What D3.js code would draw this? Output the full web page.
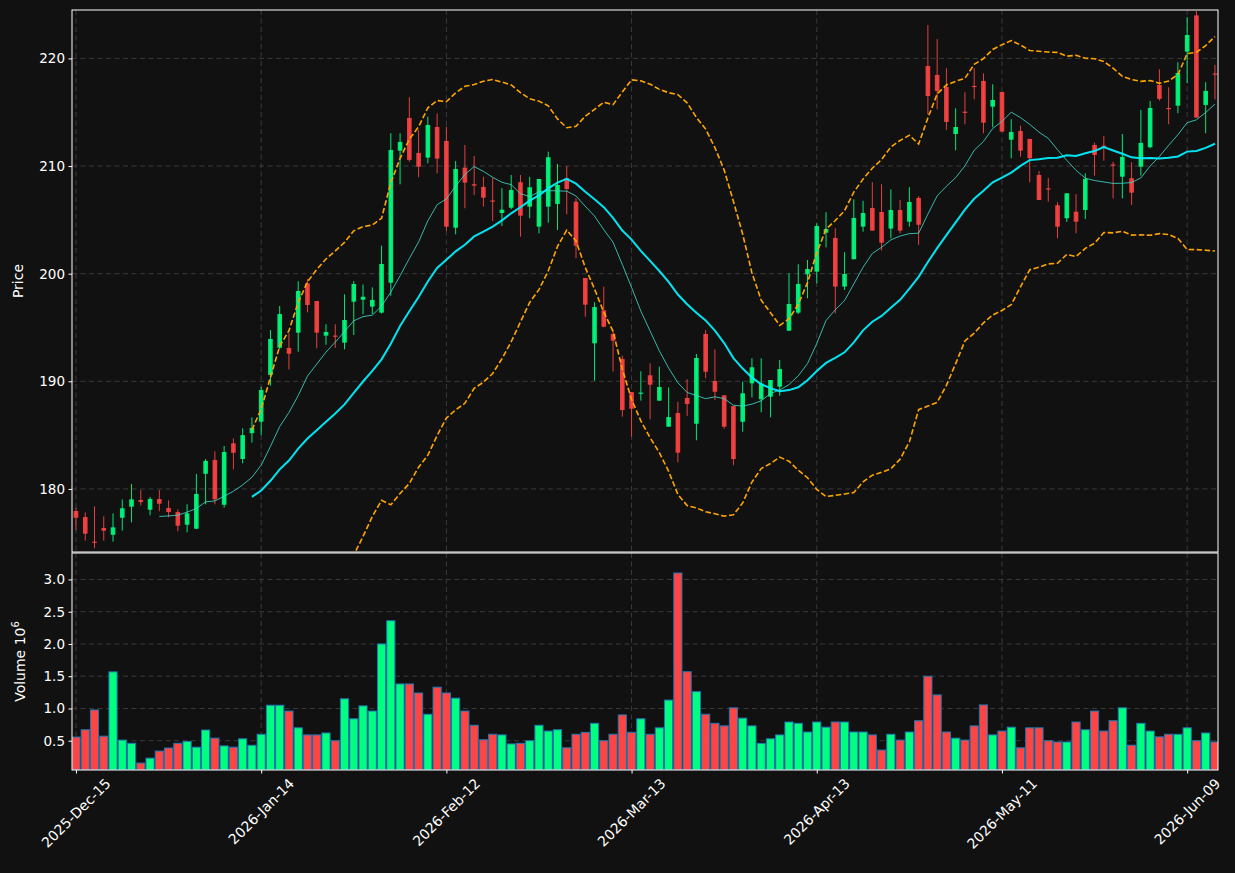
<!DOCTYPE html>
<html>
<head>
<meta charset="utf-8">
<script src="https://cdn.jsdelivr.net/npm/d3@7"></script>
<style>
body{margin:0;background:#111;}
svg{display:block;font-family:"DejaVu Sans",sans-serif;}
</style>
</head>
<body>
<svg id="chart" width="1235" height="873"></svg>
<script>
// daily OHLC, one entry per trading session
const opens = [177.95,177.39,175.1,176.37,175.74,177.32,178.35,178.97,178.07,179.06,
  178.23,177.85,176.67,176.3,181.41,182.69,178.53,184.24,182.78,185.18,
  186.25,190.58,193.12,193.1,194.52,199.1,197.46,194.24,194.25,193.59,
  197.4,197.58,196.94,196.38,199.16,211.43,214.47,211.22,210.78,213.63,
  212.33,204.27,209.85,208.31,208.06,206.8,205.64,206.13,208.5,206.23,
  204.37,206.23,206.48,208.87,206.69,199.6,193.53,196.6,194.4,192.07,
  189.0,188.85,190.56,188.2,185.78,187.05,188.45,186.06,194.4,190.03,
  188.7,187.7,186.24,189.81,188.33,188.57,189.5,194.7,196.38,199.94,
  200.19,203.81,203.32,198.8,201.34,204.37,206.1,205.73,204.19,205.92,
  204.83,207.04,219.3,218.47,217.35,212.98,215.05,217.45,217.91,215.52,
  216.89,212.45,213.26,212.52,209.17,207.93,206.36,205.15,205.76,205.92,
  211.96,211.9,210.15,209.01,208.87,209.94,211.75,217.54,215.4,215.61,
  220.63,224.0,215.68,218.6];
const highs = [178.25,177.82,178.38,177.45,177.73,179.03,180.45,179.9,179.25,179.9,
  178.94,178.1,178.57,181.4,182.78,183.5,183.99,184.7,185.63,186.65,
  189.5,194.77,197.0,194.46,199.3,199.5,197.46,195.3,195.3,198.08,
  199.3,199.0,198.73,202.6,213.05,213.05,216.4,213.35,214.59,214.9,
  213.66,210.47,211.96,210.94,209.01,208.92,207.94,209.17,209.17,209.0,
  208.8,211.34,210.2,210.0,207.0,199.6,197.34,198.79,194.77,192.38,
  189.0,190.93,191.67,191.36,189.44,188.1,190.19,192.54,194.77,192.97,
  188.7,187.7,189.97,192.14,192.14,190.12,191.98,200.04,200.87,201.27,
  204.68,205.71,204.22,202.0,206.91,206.78,208.5,208.31,207.84,206.85,
  208.03,207.2,223.1,221.81,219.09,215.37,216.86,219.09,218.62,217.6,
  216.89,214.35,213.75,212.52,209.55,208.9,206.64,207.47,207.4,209.33,
  212.18,212.8,210.4,212.98,210.35,215.21,216.05,219.0,217.32,219.65,
  223.83,224.4,217.79,219.4];
const lows = [176.18,175.19,174.48,175.19,175.1,176.12,176.9,178.47,177.55,177.92,
  177.36,176.06,175.97,176.3,178.57,178.57,178.25,181.82,182.38,184.3,
  185.0,189.6,193.0,191.1,192.75,196.4,193.07,193.4,193.1,192.97,
  194.3,196.23,196.25,196.3,197.95,208.3,210.4,208.96,210.26,209.33,
  203.97,203.66,206.08,207.31,206.23,204.9,204.43,206.0,203.44,205.15,
  203.75,204.74,204.06,205.52,201.43,196.0,190.06,195.02,190.9,186.71,
  184.85,188.2,186.47,188.2,185.78,182.47,186.78,184.52,190.28,188.26,
  185.6,182.2,185.32,188.5,187.12,186.65,188.66,194.7,196.25,197.71,
  199.1,202.45,196.32,198.49,201.34,203.9,204.0,202.14,203.29,203.75,
  204.37,202.67,214.8,215.28,213.36,211.47,213.88,216.2,213.05,213.6,
  213.2,210.72,210.87,208.49,206.85,206.69,203.29,204.8,203.75,205.08,
  209.11,210.5,207.0,207.0,206.38,209.11,211.65,216.08,213.88,214.91,
  217.7,214.5,213.05,216.2];
const closes = [177.32,175.84,175.0,176.12,176.43,178.2,179.03,178.78,179.06,178.63,
  177.85,176.58,177.73,179.53,182.6,179.03,183.43,183.36,185.0,185.67,
  189.19,193.93,196.25,192.56,198.39,197.09,194.52,194.58,194.15,195.7,
  199.04,197.86,197.56,200.9,211.5,212.24,210.57,209.94,213.82,210.69,
  204.37,209.73,208.46,208.18,207.06,206.7,205.95,207.78,205.39,208.03,
  208.8,210.82,208.24,207.87,202.6,197.12,196.9,195.07,193.77,187.33,
  187.45,188.95,189.68,189.47,186.68,183.37,187.89,192.17,190.89,189.03,
  185.78,182.78,188.89,191.3,189.81,190.12,191.14,197.18,199.04,200.44,
  204.43,204.15,198.8,199.97,205.18,205.64,204.0,202.88,205.92,204.0,
  206.66,204.55,216.51,216.98,214.1,213.63,214.95,217.38,214.03,216.14,
  213.2,213.17,211.43,210.72,206.85,207.87,204.37,207.47,204.83,208.8,
  211.03,211.85,210.1,210.85,207.53,212.15,215.4,216.24,215.34,218.65,
  222.18,214.5,216.98,218.52];
// volume in millions
const volumes = [0.557,0.67,0.977,0.57,1.567,0.51,0.46,0.154,0.23,0.34,
  0.387,0.46,0.49,0.40,0.666,0.54,0.42,0.40,0.53,0.43,
  0.60,1.05,1.05,0.96,0.70,0.59,0.59,0.62,0.50,1.15,
  0.84,1.04,0.96,2.00,2.36,1.38,1.38,1.24,0.91,1.33,
  1.24,1.16,0.96,0.74,0.515,0.60,0.59,0.45,0.46,0.50,
  0.74,0.65,0.67,0.39,0.60,0.63,0.77,0.50,0.60,0.90,
  0.63,0.84,0.60,0.70,1.13,3.10,1.57,1.26,0.91,0.77,
  0.73,1.01,0.85,0.73,0.46,0.53,0.59,0.79,0.77,0.635,
  0.79,0.71,0.79,0.79,0.635,0.635,0.59,0.355,0.60,0.51,
  0.635,0.81,1.50,1.21,0.635,0.54,0.51,0.73,1.055,0.59,
  0.65,0.71,0.39,0.70,0.70,0.50,0.48,0.48,0.79,0.67,
  0.96,0.65,0.81,1.01,0.43,0.77,0.65,0.56,0.60,0.60,
  0.70,0.50,0.62,0.48];
const tickIdx = [0,20,40,60,80,100,120];
const tickLabels = ['2025-Dec-15','2026-Jan-14','2026-Feb-12','2026-Mar-13','2026-Apr-13','2026-May-11','2026-Jun-09'];
const priceTicks = [180,190,200,210,220];
const volTicks = [0.5,1.0,1.5,2.0,2.5,3.0];

const W = 1235, H = 873;
const left = 72, right = 1218, pTop = 10, pBot = 552, vTop = 553, vBot = 770;
const upCol = '#00ff80', downCol = '#ff4444';

const svg = d3.select('#chart');
svg.append('rect').attr('width', W).attr('height', H).attr('fill', '#111111');

const n = closes.length;
const idx = d3.range(n);
const x = d3.scaleLinear().domain([-0.43, 123.33]).range([left, right]);
const step = x(1) - x(0);
const yP = d3.scaleLinear().domain([174.14, 224.5]).range([pBot, pTop]);
const yV = d3.scaleLinear().domain([0.3 * d3.min(volumes), 1.1 * d3.max(volumes)]).range([vBot, vTop]);

const defs = svg.append('defs');
defs.append('clipPath').attr('id', 'clipP').append('rect')
  .attr('x', left).attr('y', pTop).attr('width', right - left).attr('height', pBot - pTop);
defs.append('clipPath').attr('id', 'clipV').append('rect')
  .attr('x', left).attr('y', vTop).attr('width', right - left).attr('height', vBot - vTop);

// grid
function grid(g, ticksY, scaleY, y0, y1) {
  g.selectAll('.gx').data(tickIdx).enter().append('line')
    .attr('x1', d => x(d)).attr('x2', d => x(d)).attr('y1', y0).attr('y2', y1);
  g.selectAll('.gy').data(ticksY).enter().append('line')
    .attr('x1', left).attr('x2', right).attr('y1', d => scaleY(d)).attr('y2', d => scaleY(d));
  g.selectAll('line').attr('stroke', '#3a3a3a').attr('stroke-width', 1).attr('stroke-dasharray', '5,3.5');
}
grid(svg.append('g'), priceTicks, yP, pTop, pBot);
grid(svg.append('g'), volTicks, yV, vTop, vBot);

// indicators
function rolling(arr, w, fn) {
  return arr.map((_, i) => i < w - 1 ? null : fn(arr.slice(i - w + 1, i + 1)));
}
const ma10 = rolling(closes, 10, d3.mean);
const ma20 = rolling(closes, 20, d3.mean);
const sd20 = rolling(closes, 20, d3.deviation);
const bbUp = ma20.map((m, i) => m == null ? null : m + 2 * sd20[i]);
const bbLo = ma20.map((m, i) => m == null ? null : m - 2 * sd20[i]);

const gP = svg.append('g').attr('clip-path', 'url(#clipP)');

// candles
const cw = step * 0.5;
const candle = gP.selectAll('.c').data(idx).enter().append('g');
candle.append('line')
  .attr('x1', i => x(i)).attr('x2', i => x(i))
  .attr('y1', i => yP(highs[i])).attr('y2', i => yP(lows[i]))
  .attr('stroke', i => closes[i] >= opens[i] ? upCol : downCol)
  .attr('stroke-width', 1).attr('opacity', 0.9);
candle.append('rect')
  .attr('x', i => x(i) - cw / 2).attr('width', cw)
  .attr('y', i => yP(Math.max(opens[i], closes[i])))
  .attr('height', i => Math.max(1.2, Math.abs(yP(opens[i]) - yP(closes[i]))))
  .attr('fill', i => closes[i] >= opens[i] ? upCol : downCol)
  .attr('opacity', 0.9);

const line = d3.line().defined(d => d != null).x((d, i) => x(i)).y(d => yP(d));
gP.append('path').datum(ma10).attr('d', line).attr('fill', 'none')
  .attr('stroke', '#40e0d0').attr('stroke-opacity', 0.8).attr('stroke-width', 1);
gP.append('path').datum(ma20).attr('d', line).attr('fill', 'none')
  .attr('stroke', '#00f0ff').attr('stroke-opacity', 0.95).attr('stroke-width', 2);
[bbUp, bbLo].forEach(b => {
  gP.append('path').datum(b).attr('d', line).attr('fill', 'none')
    .attr('stroke', '#ffa500').attr('stroke-width', 1.6).attr('stroke-dasharray', '5.5,2.5');
});

// volume
const gV = svg.append('g').attr('clip-path', 'url(#clipV)');
const bw = step * 0.88;
gV.selectAll('rect').data(idx).enter().append('rect')
  .attr('x', i => x(i) - bw / 2).attr('width', bw)
  .attr('y', i => yV(volumes[i])).attr('height', i => vBot - yV(volumes[i]))
  .attr('fill', i => closes[i] >= opens[i] ? upCol : downCol)
  .attr('stroke', '#1f77b4').attr('stroke-width', 1);

// frames
[[pTop, pBot], [vTop, vBot]].forEach(([t, b]) => {
  svg.append('rect').attr('x', left).attr('y', t).attr('width', right - left).attr('height', b - t)
    .attr('fill', 'none').attr('stroke', '#ffffff').attr('stroke-width', 1);
});

// axes
function styleAxis(g) {
  g.select('.domain').remove();
  g.selectAll('line').attr('stroke', '#ffffff');
  g.selectAll('text').attr('fill', '#ffffff').style('font-size', '13.5px').style('font-family', '"DejaVu Sans"');
}
svg.append('g').attr('transform', 'translate(' + left + ',0)')
  .call(d3.axisLeft(yP).tickValues(priceTicks).tickSize(3.5).tickPadding(3.5).tickFormat(d3.format('d')))
  .call(styleAxis);
svg.append('g').attr('transform', 'translate(' + left + ',0)')
  .call(d3.axisLeft(yV).tickValues(volTicks).tickSize(3.5).tickPadding(3.5).tickFormat(d3.format('.1f')))
  .call(styleAxis);
svg.append('g').attr('transform', 'translate(0,' + vBot + ')')
  .call(d3.axisBottom(x).tickValues(tickIdx).tickSize(3.5).tickFormat(''))
  .call(styleAxis);

// rotated date labels
const xl = svg.append('g');
tickIdx.forEach((t, k) => {
  const txt = xl.append('text').text(tickLabels[k])
    .attr('fill', '#ffffff').style('font-size', '14px')
    .attr('text-anchor', 'middle').attr('dominant-baseline', 'central');
  const len = txt.node().getComputedTextLength();
  const half = (len + 14) * Math.SQRT1_2 / 2;
  txt.attr('transform', 'translate(' + x(t) + ',' + (vBot + 6 + half) + ') rotate(-45)');
});

// axis titles
svg.append('text').text('Price').attr('fill', '#ffffff').style('font-size', '14px')
  .attr('text-anchor', 'middle')
  .attr('transform', 'translate(23,' + ((pTop + pBot) / 2) + ') rotate(-90)');
const vt = svg.append('text').attr('fill', '#ffffff').style('font-size', '14px')
  .attr('text-anchor', 'middle')
  .attr('transform', 'translate(25,' + ((vTop + vBot) / 2) + ') rotate(-90)');
vt.append('tspan').text('Volume  10');
vt.append('tspan').text('6').attr('dy', -6).style('font-size', '10px');
</script>
</body>
</html>
